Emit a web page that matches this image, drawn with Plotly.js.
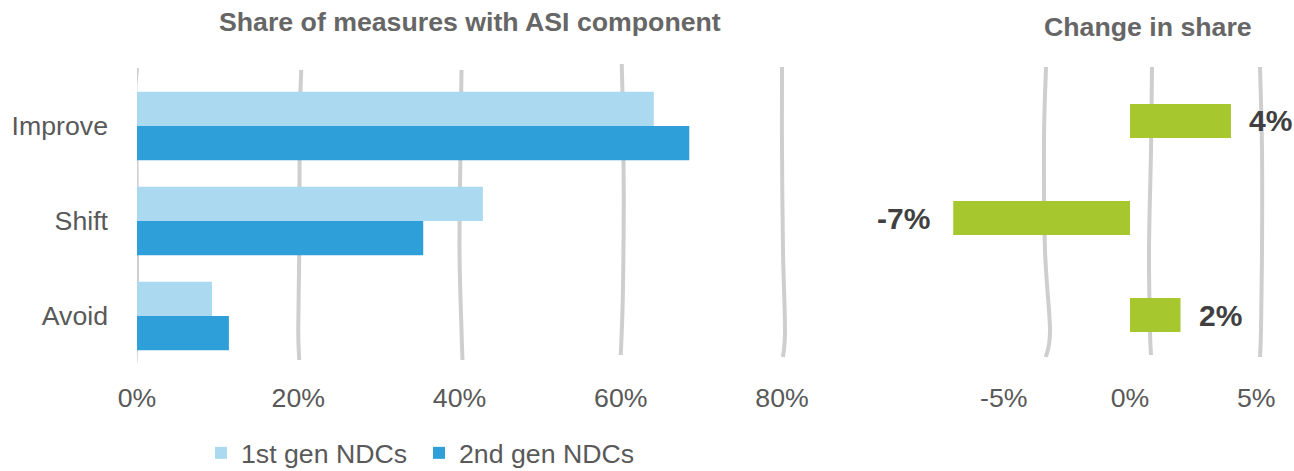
<!DOCTYPE html>
<html>
<head>
<meta charset="utf-8">
<script src="https://cdn.plot.ly/plotly-3.0.1.min.js"></script>
<style>
  html, body { margin: 0; padding: 0; background: #ffffff; }
  #chart { width: 1294px; height: 471px; }
</style>
</head>
<body>
<div id="chart"></div>
<script>
// ASI framework categories (Avoid / Shift / Improve)
const categories = ['Improve', 'Shift', 'Avoid'];
// Share of transport measures with each ASI component, in percent
const firstGen = [64.1, 42.9, 9.3];
const secondGen = [68.5, 35.5, 11.4];
// Change in share between the two NDC generations, in percentage points
const changeInShare = [4, -7, 2];

const shareTicks = [0, 20, 40, 60, 80];
const changeTicks = [-5, 0, 5];

const W = 1294, H = 471;
const GREY_TEXT = '#595959';
const DARK_TEXT = '#404040';
const STROKE = '#cecece';
const FONT = '"Liberation Sans", Arial, Helvetica, sans-serif';

// pixel <-> paper helpers (figure has no margins)
const px = v => v / W;
const py = v => 1 - v / H;

// Smooth pencil-style stroke through points, Catmull-Rom converted to cubic Bezier
function smoothPath(pts) {
  let d = `M${pts[0][0]},${pts[0][1]}`;
  for (let i = 0; i < pts.length - 1; i++) {
    const p0 = pts[Math.max(i - 1, 0)];
    const p1 = pts[i];
    const p2 = pts[i + 1];
    const p3 = pts[Math.min(i + 2, pts.length - 1)];
    const c1 = [p1[0] + (p2[0] - p0[0]) / 6, p1[1] + (p2[1] - p0[1]) / 6];
    const c2 = [p2[0] - (p3[0] - p1[0]) / 6, p2[1] - (p3[1] - p1[1]) / 6];
    d += ` C${c1[0]},${c1[1]} ${c2[0]},${c2[1]} ${p2[0]},${p2[1]}`;
  }
  return d;
}

// Left panel: hand-drawn gridlines at each tick, wobble given as [dx px, y px]
const pxPerPct = 8.0625;
const shareWobble = [
  [[0, 68], [-2, 97], [-0.5, 160], [0, 300], [-1.5, 363]],
  [[3, 70], [1.5, 120], [1, 250], [0, 330], [1, 360]],
  [[2, 70], [1, 150], [0, 250], [2, 330], [3, 360]],
  [[1, 64], [2, 110], [3, 200], [2, 300], [0, 355]],
  [[0, 67], [0, 150], [1, 250], [3, 330], [1, 357]]
];
const shapes = [];
shareTicks.forEach((t, i) => {
  const pts = shareWobble[i].map(([dx, y]) => [t + dx / pxPerPct, py(y)]);
  shapes.push({
    type: 'path', xref: 'x', yref: 'paper', layer: 'below',
    path: smoothPath(pts),
    line: { color: STROKE, width: 4 }
  });
});

// Right panel: free-hand guide strokes
const changeStrokes = [
  [[1046, 67], [1044, 140], [1045, 250], [1050, 330], [1046, 357]],
  [[1152, 67], [1151, 150], [1149, 250], [1150, 330], [1151, 355]],
  [[1260, 67], [1262, 150], [1262, 250], [1261, 330], [1260, 357]]
];
changeStrokes.forEach(s => {
  shapes.push({
    type: 'path', xref: 'paper', yref: 'paper', layer: 'below',
    path: smoothPath(s.map(([x, y]) => [px(x), py(y)])),
    line: { color: STROKE, width: 4 }
  });
});

const traces = [
  {
    type: 'bar', orientation: 'h', name: '1st gen NDCs',
    y: categories, x: firstGen,
    marker: { color: '#abd9f0', line: { width: 0 } },
    xaxis: 'x', yaxis: 'y', hoverinfo: 'skip'
  },
  {
    type: 'bar', orientation: 'h', name: '2nd gen NDCs',
    y: categories, x: secondGen,
    marker: { color: '#2e9fd8', line: { width: 0 } },
    xaxis: 'x', yaxis: 'y', hoverinfo: 'skip'
  },
  {
    type: 'bar', orientation: 'h', name: 'Change in share',
    y: categories, x: changeInShare, width: 0.35,
    marker: { color: '#a6c82e', line: { width: 0 } },
    xaxis: 'x2', yaxis: 'y2', showlegend: false, hoverinfo: 'skip'
  }
];

// Value labels beside the change bars
const annotations = changeInShare.map((v, i) => ({
  xref: 'x2', yref: 'y2', x: v, y: categories[i],
  text: `${v}%`, showarrow: false,
  xanchor: v >= 0 ? 'left' : 'right', yanchor: 'middle',
  xshift: v >= 0 ? 16 : -21,
  font: { family: FONT, size: 30, color: DARK_TEXT, weight: 'bold' }
}));
annotations.push({
  xref: 'paper', yref: 'paper', x: px(470), y: py(22),
  xanchor: 'center', yanchor: 'middle', showarrow: false,
  text: '<b>Share of measures with ASI component</b>',
  font: { family: FONT, size: 26.7, color: '#666666' }
});
annotations.push({
  xref: 'paper', yref: 'paper', x: px(1148), y: py(27),
  xanchor: 'center', yanchor: 'middle', showarrow: false,
  text: '<b>Change in share</b>',
  font: { family: FONT, size: 26.7, color: '#666666' }
});

const axisFont = { family: FONT, size: 26.7, color: GREY_TEXT };

const layout = {
  width: W, height: H,
  margin: { l: 0, r: 0, t: 0, b: 0, pad: 0, autoexpand: false },
  paper_bgcolor: '#ffffff', plot_bgcolor: 'rgba(0,0,0,0)',
  font: { family: FONT, color: GREY_TEXT },
  barmode: 'group', bargap: 0.278, bargroupgap: 0,
  showlegend: true,
  legend: {
    orientation: 'h', x: px(201), xanchor: 'left', y: -6 / H, yanchor: 'bottom',
    font: { family: FONT, size: 26.7, color: GREY_TEXT },
    entrywidth: 173, entrywidthmode: 'pixels',
    bgcolor: 'rgba(0,0,0,0)', traceorder: 'normal'
  },
  xaxis: {
    domain: [px(137), px(814.25)], range: [0, 84], anchor: 'y',
    tickvals: shareTicks, ticktext: shareTicks.map(t => `${t}%`),
    showgrid: false, zeroline: false, showline: false,
    ticks: '', tickfont: axisFont, ticklabelstandoff: 16, automargin: false,
    fixedrange: true
  },
  yaxis: {
    domain: [py(363.5), py(78.5)], type: 'category',
    categoryorder: 'array', categoryarray: categories,
    autorange: 'reversed', anchor: 'x',
    showgrid: false, zeroline: false, showline: false,
    ticks: '', tickfont: axisFont, ticklabelstandoff: 28, automargin: false,
    fixedrange: true
  },
  xaxis2: {
    domain: [px(877.5), px(1291.6)], range: [-10, 6.4], anchor: 'y2',
    tickvals: changeTicks, ticktext: changeTicks.map(t => `${t}%`),
    showgrid: false, zeroline: false, showline: false,
    ticks: '', tickfont: axisFont, ticklabelstandoff: 16, automargin: false,
    fixedrange: true
  },
  yaxis2: {
    domain: [py(363.5), py(72.5)], type: 'category',
    categoryorder: 'array', categoryarray: categories,
    autorange: 'reversed', anchor: 'x2',
    showgrid: false, zeroline: false, showline: false,
    showticklabels: false, ticks: '', automargin: false,
    fixedrange: true
  },
  shapes: shapes,
  annotations: annotations
};

Plotly.newPlot('chart', traces, layout, { displayModeBar: false, staticPlot: true });
</script>
</body>
</html>
